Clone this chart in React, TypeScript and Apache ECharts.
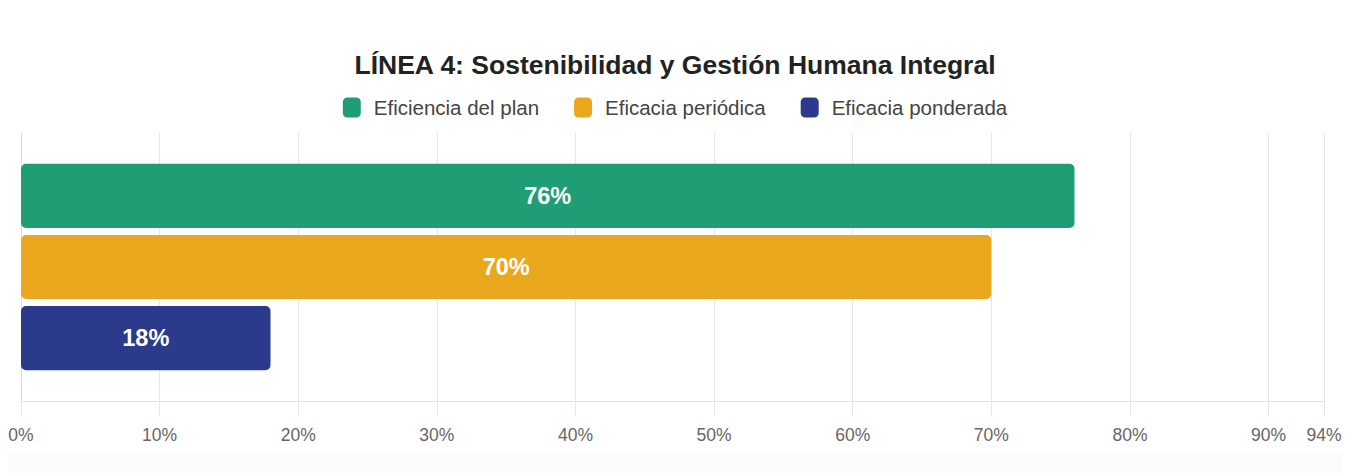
import React, { useEffect, useRef } from "react";
import * as echarts from "echarts";

const titleText = "LÍNEA 4: Sostenibilidad y Gestión Humana Integral";
const categories = ["LÍNEA 4"];
const seriesNames = ["Eficiencia del plan", "Eficacia periódica", "Eficacia ponderada"];
const seriesValues = [[76], [70], [18]];
const seriesColors = ["#1f9e76", "#e9a81e", "#2b3a8b"];
const axisMax = 94;
const axisInterval = 10;

const FONT = "'Liberation Sans', Arial, sans-serif";

export default function App() {
  const ref = useRef<HTMLDivElement>(null);
  useEffect(() => {
    if (!ref.current) return;
    const chart = echarts.init(ref.current, undefined, { renderer: "svg" });
    chart.setOption({
      animation: false,
      backgroundColor: "#ffffff",
      textStyle: { fontFamily: FONT },
      title: {
        text: titleText,
        left: "center",
        top: 46,
        textStyle: { fontFamily: FONT, fontSize: 26.5, fontWeight: "bold", color: "#222222" },
      },
      legend: {
        top: 92,
        left: "center",
        itemWidth: 18,
        itemHeight: 20,
        itemGap: 35,
        icon: "roundRect",
        textStyle: { fontFamily: FONT, fontSize: 20.5, color: "#444444", padding: [0, 0, 0, 8] },
        data: seriesNames,
      },
      graphic: [
        {
          type: "rect",
          shape: { x: 8, y: 453, width: 1334, height: 20 },
          style: { fill: "#fcfcfc" },
          silent: true,
          z: -10,
        },
      ],
      grid: { left: 21, right: 26, top: 133, bottom: 72, containLabel: false },
      xAxis: {
        type: "value",
        min: 0,
        max: axisMax,
        interval: axisInterval,
        axisLine: { show: true, lineStyle: { color: "#e2e2e2", width: 1 } },
        axisTick: { show: true, length: 15, lineStyle: { color: "#e6e6e6" } },
        splitLine: { show: true, lineStyle: { color: "#e6e6e6", width: 1 } },
        axisLabel: {
          formatter: "{value}%",
          fontFamily: FONT,
          fontSize: 17.5,
          color: "#666666",
          margin: 25,
          showMaxLabel: true,
          showMinLabel: true,
        },
      },
      yAxis: {
        type: "category",
        data: categories,
        inverse: true,
        axisLine: { show: true, lineStyle: { color: "#dcdcdc" } },
        axisTick: { show: false },
        axisLabel: { show: false },
        splitLine: { show: false },
      },
      series: seriesNames.map((name, i) => ({
        name,
        type: "bar",
        data: seriesValues[i],
        barCategoryGap: "23%",
        barGap: "11%",
        itemStyle: { color: seriesColors[i], borderRadius: 5 },
        label: {
          show: true,
          position: "inside",
          formatter: "{c}%",
          color: "#ffffff",
          fontFamily: FONT,
          fontSize: 23.5,
          fontWeight: "bold",
        },
      })),
    });
    return () => chart.dispose();
  }, []);
  return <div ref={ref} style={{ width: 1350, height: 473, position: "absolute", left: 0, top: 0 }} />;
}
